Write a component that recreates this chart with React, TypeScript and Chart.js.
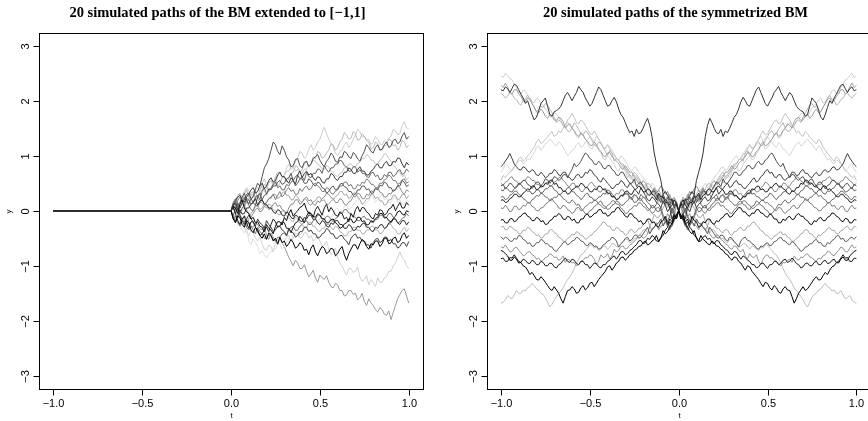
import React, { useEffect, useRef } from "react";
import { Chart, registerables } from "chart.js";
Chart.register(...registerables);

// ---------- data ----------
const tGrid = [0, 0.0125, 0.025, 0.0375, 0.05, 0.0625, 0.075, 0.0875, 0.1, 0.1125, 0.125, 0.1375, 0.15, 0.1625, 0.175, 0.1875, 0.2, 0.2125, 0.225, 0.2375, 0.25, 0.2625, 0.275, 0.2875, 0.3, 0.3125, 0.325, 0.3375, 0.35, 0.3625, 0.375, 0.3875, 0.4, 0.4125, 0.425, 0.4375, 0.45, 0.4625, 0.475, 0.4875, 0.5, 0.5125, 0.525, 0.5375, 0.55, 0.5625, 0.575, 0.5875, 0.6, 0.6125, 0.625, 0.6375, 0.65, 0.6625, 0.675, 0.6875, 0.7, 0.7125, 0.725, 0.7375, 0.75, 0.7625, 0.775, 0.7875, 0.8, 0.8125, 0.825, 0.8375, 0.85, 0.8625, 0.875, 0.8875, 0.9, 0.9125, 0.925, 0.9375, 0.95, 0.9625, 0.975, 0.9875, 1];
const extendedStart = -1; // BM extended by 0 on [-1, 0]
const extendedValue = 0;

const xTicks = [-1, -0.5, 0, 0.5, 1];
const xTickLabels = ["\u22121.0", "\u22120.5", "0.0", "0.5", "1.0"];
const yTicks = [-3, -2, -1, 0, 1, 2, 3];
const yTickLabels = ["\u22123", "\u22122", "\u22121", "0", "1", "2", "3"];
const leftTitle = "20 simulated paths of the BM extended to [\u22121,1]";
const rightTitle = "20 simulated paths of the symmetrized BM";
const xTitle = "t";
const yTitle = "y";

// left panel: 20 paths on [0,1]
const L1 = [0,0.1, 0.15,0.02, 0.05,0.14, 0.2,0.3, 0.32,0.22, 0.25,0.4, 0.5,0.45, 0.62,0.78, 0.85,0.95, 1.1,1.25, 1.2,1.08, 1.02,1.18, 1.1,0.98, 0.92,0.8, 0.82,0.93, 0.95,0.82, 0.78,0.88, 0.9,0.8, 0.85,0.95, 0.98,1.02, 0.92,0.85, 0.8,0.9, 0.95,1.05, 1.0,0.9, 0.88,0.98, 0.97,1.08, 1.05,0.98, 0.95,1.06, 1.02,0.94, 0.9,1.0, 1.08,1.2, 1.15,1.08, 1.05,1.15, 1.2,1.1, 1.12,1.2, 1.25,1.15, 1.18,1.28, 1.3,1.22, 1.25,1.36, 1.42,1.3, 1.35];
const L2 = [0,-0.12, -0.08,0.05, 0.12,0.0, 0.05,0.15, 0.22,0.3, 0.35,0.22, 0.25,0.38, 0.45,0.35, 0.4,0.5, 0.55,0.45, 0.5,0.62, 0.7,0.6, 0.65,0.78, 0.85,0.75, 0.8,0.9, 0.95,1.08, 1.05,0.95, 1.0,1.12, 1.2,1.1, 1.15,1.25, 1.3,1.42, 1.52,1.4, 1.3,1.22, 1.15,1.05, 1.0,1.08, 1.1,1.2, 1.25,1.15, 1.2,1.3, 1.38,1.48, 1.44,1.35, 1.35,1.28, 1.3,1.2, 1.25,1.35, 1.3,1.22, 1.19,1.28, 1.25,1.32, 1.35,1.48, 1.45,1.38, 1.4,1.55, 1.62,1.5, 1.5];
const L3 = [0,0.12, 0.18,0.08, 0.1,0.22, 0.25,0.15, 0.2,0.32, 0.35,0.25, 0.22,0.3, 0.38,0.48, 0.45,0.35, 0.42,0.5, 0.55,0.45, 0.5,0.6, 0.62,0.52, 0.58,0.68, 0.7,0.82, 0.8,0.7, 0.75,0.85, 0.9,0.8, 0.85,0.98, 0.95,1.08, 1.05,0.95, 0.98,1.05, 1.1,1.22, 1.2,1.1, 1.15,1.25, 1.3,1.42, 1.38,1.3, 1.32,1.44, 1.4,1.28, 1.3,1.4, 1.35,1.28, 1.25,1.12, 1.15,1.25, 1.22,1.12, 1.1,1.18, 1.2,1.3, 1.28,1.18, 1.2,1.1, 1.15,1.28, 1.25,1.15, 1.19];
const L4 = [0,-0.15, -0.22,-0.1, -0.12,-0.25, -0.3,-0.18, -0.22,-0.35, -0.4,-0.3, -0.35,-0.45, -0.5,-0.42, -0.52,-0.4, -0.45,-0.55, -0.5,-0.6, -0.48,-0.58, -0.55,-0.65, -0.6,-0.52, -0.58,-0.68, -0.65,-0.58, -0.62,-0.72, -0.7,-0.8, -0.68,-0.62, -0.75,-0.82, -0.72,-0.65, -0.68,-0.78, -0.75,-0.68, -0.7,-0.82, -0.78,-0.7, -0.65,-0.8, -0.9,-0.78, -0.7,-0.62, -0.62,-0.7, -0.6,-0.52, -0.56,-0.65, -0.7,-0.6, -0.62,-0.55, -0.55,-0.65, -0.6,-0.5, -0.5,-0.6, -0.58,-0.5, -0.48,-0.58, -0.55,-0.45, -0.4,-0.5, -0.45];
const L5 = [0,0.08, -0.05,-0.18, -0.25,-0.15, -0.1,-0.22, -0.32,-0.2, -0.2,-0.3, -0.38,-0.45, -0.42,-0.35, -0.3,-0.38, -0.25,-0.15, -0.2,-0.3, -0.28,-0.2, -0.22,-0.32, -0.32,-0.4, -0.3,-0.22, -0.2,-0.1, -0.15,-0.22, -0.1,-0.02, -0.05,-0.12, 0.02,0.08, 0.0,-0.08, 0.05,0.12, -0.02,0.06, 0.0,-0.08, -0.1,-0.02, -0.05,-0.15, -0.12,-0.2, -0.05,-0.12, 0.02,0.08, -0.02,0.06, 0.05,-0.02, -0.05,-0.12, -0.15,-0.05, -0.08,0.02, 0.0,-0.08, -0.05,0.03, 0.05,0.12, 0.0,0.08, 0.15,0.05, 0.05,0.15, 0.1];
const L6 = [0,-0.08, -0.15,-0.25, -0.2,-0.12, -0.3,-0.4, -0.45,-0.35, -0.4,-0.5, -0.55,-0.48, -0.6,-0.7, -0.72,-0.62, -0.65,-0.75, -0.58,-0.52, -0.5,-0.6, -0.55,-0.48, -0.45,-0.55, -0.5,-0.42, -0.42,-0.5, -0.48,-0.4, -0.4,-0.5, -0.45,-0.55, -0.5,-0.45, -0.55,-0.65, -0.62,-0.55, -0.7,-0.8, -0.75,-0.68, -0.85,-0.95, -1.0,-1.1, -1.17,-1.05, -1.05,-1.12, -1.1,-1.02, -1.2,-1.28, -1.25,-1.18, -1.35,-1.25, -1.3,-1.38, -1.22,-1.3, -1.3,-1.22, -1.2,-1.1, -1.1,-1.0, -0.95,-0.85, -0.75,-0.85, -0.9,-1.0, -1.05];
const L7 = [0,0.06, -0.05,0.02, -0.12,-0.2, -0.08,-0.15, -0.2,-0.28, -0.3,-0.22, -0.25,-0.32, -0.35,-0.28, -0.45,-0.52, -0.4,-0.48, -0.55,-0.62, -0.5,-0.58, -0.65,-0.75, -0.85,-0.92, -1.0,-0.9, -0.95,-1.05, -1.05,-0.98, -1.1,-1.2, -1.15,-1.08, -1.22,-1.3, -1.17,-1.22, -1.25,-1.18, -1.3,-1.38, -1.4,-1.32, -1.35,-1.45, -1.45,-1.55, -1.53,-1.45, -1.45,-1.52, -1.5,-1.62, -1.58,-1.5, -1.65,-1.72, -1.6,-1.68, -1.72,-1.8, -1.84,-1.76, -1.8,-1.88, -1.9,-1.82, -1.98,-1.85, -1.72,-1.6, -1.52,-1.45, -1.42,-1.55, -1.68];
const L8 = [0,-0.1, -0.15,-0.08, -0.25,-0.35, -0.4,-0.3, -0.55,-0.62, -0.5,-0.58, -0.65,-0.78, -0.72,-0.8, -0.86,-0.78, -0.75,-0.68, -0.7,-0.62, -0.6,-0.7, -0.65,-0.58, -0.5,-0.55, -0.45,-0.38, -0.35,-0.45, -0.4,-0.32, -0.3,-0.22, -0.2,-0.3, -0.25,-0.18, -0.15,-0.05, -0.1,-0.18, -0.2,-0.12, -0.05,0.02, 0.05,-0.05, 0.0,0.08, 0.1,0.02, 0.05,0.12, 0.15,0.22, 0.2,0.12, 0.1,0.15, 0.18,0.28, 0.25,0.15, 0.2,0.25, 0.3,0.2, 0.22,0.14, 0.15,0.22, 0.25,0.15, 0.2,0.12, 0.1,0.2, 0.16];
const L9 = [0,0.12, 0.18,0.25, 0.28,0.2, 0.15,0.25, 0.3,0.38, 0.42,0.32, 0.35,0.45, 0.5,0.4, 0.45,0.55, 0.6,0.52, 0.55,0.65, 0.7,0.62, 0.62,0.55, 0.5,0.6, 0.55,0.48, 0.65,0.72, 0.6,0.68, 0.72,0.65, 0.68,0.6, 0.55,0.62, 0.6,0.52, 0.5,0.58, 0.58,0.68, 0.65,0.58, 0.55,0.62, 0.62,0.7, 0.7,0.78, 0.75,0.68, 0.68,0.75, 0.8,0.72, 0.72,0.65, 0.65,0.72, 0.75,0.82, 0.85,0.78, 0.78,0.86, 0.9,0.82, 0.82,0.9, 0.88,0.96, 0.95,0.85, 0.78,0.88, 0.83];
const L10 = [0,-0.1, 0.05,0.15, -0.05,0.05, 0.1,0.22, 0.2,0.12, 0.15,0.25, 0.28,0.2, 0.35,0.42, 0.3,0.38, 0.4,0.48, 0.52,0.42, 0.45,0.38, 0.38,0.48, 0.45,0.52, 0.55,0.45, 0.5,0.58, 0.62,0.55, 0.7,0.62, 0.6,0.68, 0.68,0.76, 0.75,0.68, 0.82,0.75, 0.7,0.78, 0.78,0.85, 0.85,0.92, 0.9,0.82, 0.8,0.72, 0.72,0.8, 0.8,0.7, 0.75,0.68, 0.68,0.62, 0.6,0.68, 0.7,0.62, 0.65,0.56, 0.58,0.66, 0.62,0.7, 0.7,0.62, 0.65,0.72, 0.75,0.66, 0.68,0.76, 0.71];
const L11 = [0,0.15, 0.22,0.12, 0.05,0.15, 0.25,0.18, 0.1,0.02, 0.0,0.1, 0.08,0.15, 0.2,0.12, 0.15,0.22, 0.25,0.3, 0.2,0.28, 0.35,0.25, 0.3,0.38, 0.42,0.35, 0.38,0.3, 0.3,0.4, 0.35,0.42, 0.45,0.38, 0.4,0.48, 0.5,0.45, 0.42,0.35, 0.35,0.42, 0.4,0.32, 0.3,0.36, 0.38,0.45, 0.45,0.52, 0.52,0.45, 0.48,0.4, 0.4,0.48, 0.45,0.52, 0.5,0.58, 0.55,0.48, 0.48,0.42, 0.42,0.5, 0.5,0.56, 0.58,0.65, 0.62,0.55, 0.55,0.48, 0.5,0.56, 0.58,0.5, 0.53];
const L12 = [0,0.05, -0.05,0.1, 0.15,0.25, 0.32,0.2, 0.12,0.22, 0.15,0.1, 0.25,0.32, 0.2,0.28, 0.3,0.4, 0.38,0.45, 0.45,0.52, 0.55,0.48, 0.5,0.58, 0.6,0.68, 0.55,0.62, 0.65,0.58, 0.58,0.5, 0.5,0.58, 0.55,0.48, 0.45,0.52, 0.5,0.42, 0.4,0.32, 0.35,0.42, 0.45,0.38, 0.4,0.48, 0.5,0.44, 0.42,0.35, 0.35,0.28, 0.3,0.38, 0.38,0.45, 0.45,0.38, 0.4,0.32, 0.32,0.4, 0.38,0.46, 0.45,0.52, 0.5,0.42, 0.42,0.35, 0.38,0.46, 0.45,0.55, 0.52,0.44, 0.47];
const L13 = [0,0.1, 0.05,0.18, 0.25,0.15, 0.08,0.02, -0.05,-0.12, -0.05,0.02, 0.05,-0.02, 0.0,0.08, 0.1,0.02, 0.05,0.12, 0.15,0.08, 0.1,0.02, 0.0,-0.06, 0.05,0.12, 0.12,0.2, 0.2,0.12, 0.15,0.22, 0.25,0.18, 0.2,0.12, 0.1,0.18, 0.15,0.22, 0.25,0.32, 0.3,0.24, 0.22,0.15, 0.15,0.22, 0.2,0.12, 0.1,0.16, 0.18,0.26, 0.25,0.32, 0.3,0.22, 0.22,0.3, 0.28,0.36, 0.35,0.42, 0.4,0.34, 0.32,0.25, 0.25,0.32, 0.3,0.38, 0.38,0.45, 0.42,0.34, 0.3,0.38, 0.35];
const L14 = [0,-0.08, -0.18,-0.1, -0.05,-0.15, -0.22,-0.3, -0.15,-0.05, 0.0,0.08, 0.1,0.02, 0.05,0.12, 0.15,0.22, 0.22,0.3, 0.3,0.22, 0.25,0.32, 0.35,0.28, 0.28,0.2, 0.2,0.28, 0.25,0.18, 0.15,0.22, 0.2,0.12, 0.1,0.16, 0.18,0.25, 0.25,0.18, 0.2,0.12, 0.12,0.18, 0.2,0.26, 0.28,0.35, 0.35,0.28, 0.3,0.22, 0.25,0.32, 0.32,0.25, 0.2,0.12, 0.15,0.22, 0.22,0.3, 0.3,0.22, 0.25,0.18, 0.18,0.1, 0.12,0.2, 0.2,0.28, 0.28,0.2, 0.22,0.3, 0.3,0.22, 0.28];
const L15 = [0,0.1, 0.12,0.02, -0.08,-0.18, -0.25,-0.15, -0.08,-0.15, -0.2,-0.28, -0.15,-0.22, -0.25,-0.32, -0.18,-0.25, -0.3,-0.38, -0.35,-0.28, -0.28,-0.35, -0.38,-0.45, -0.32,-0.38, -0.4,-0.48, -0.45,-0.38, -0.38,-0.3, -0.3,-0.38, -0.35,-0.42, -0.42,-0.5, -0.48,-0.42, -0.4,-0.32, -0.35,-0.42, -0.42,-0.5, -0.5,-0.45, -0.45,-0.52, -0.55,-0.62, -0.5,-0.45, -0.42,-0.5, -0.48,-0.55, -0.55,-0.62, -0.62,-0.68, -0.58,-0.52, -0.5,-0.58, -0.55,-0.48, -0.48,-0.55, -0.52,-0.6, -0.6,-0.68, -0.65,-0.58, -0.58,-0.65, -0.56];
const L16 = [0,0.12, 0.18,0.28, 0.32,0.22, 0.3,0.38, 0.25,0.2, 0.28,0.35, 0.22,0.15, 0.15,0.08, 0.05,0.12, 0.1,0.02, 0.0,-0.06, -0.08,0.0, -0.02,-0.1, -0.12,-0.18, -0.2,-0.12, -0.15,-0.22, -0.25,-0.3, -0.3,-0.22, -0.22,-0.28, -0.3,-0.36, -0.38,-0.32, -0.32,-0.25, -0.25,-0.3, -0.35,-0.28, -0.3,-0.38, -0.4,-0.46, -0.45,-0.38, -0.38,-0.3, -0.3,-0.36, -0.35,-0.42, -0.42,-0.35, -0.35,-0.28, -0.28,-0.35, -0.35,-0.42, -0.4,-0.33, -0.3,-0.24, -0.25,-0.32, -0.35,-0.42, -0.42,-0.35, -0.3,-0.38, -0.32];
const L17 = [0,-0.12, -0.2,-0.1, 0.02,-0.06, -0.05,0.05, 0.05,0.12, 0.15,0.22, 0.1,0.18, 0.2,0.12, 0.12,0.05, 0.05,-0.02, -0.05,0.02, 0.0,-0.08, -0.1,-0.02, -0.05,-0.12, -0.15,-0.08, -0.1,-0.18, -0.2,-0.12, -0.15,-0.08, -0.08,-0.16, -0.15,-0.22, -0.25,-0.18, -0.2,-0.28, -0.3,-0.22, -0.25,-0.18, -0.18,-0.25, -0.25,-0.32, -0.32,-0.25, -0.28,-0.36, -0.35,-0.28, -0.3,-0.24, -0.22,-0.3, -0.3,-0.36, -0.38,-0.3, -0.32,-0.26, -0.25,-0.32, -0.3,-0.22, -0.22,-0.15, -0.15,-0.22, -0.25,-0.18, -0.18,-0.26, -0.2];
const L18 = [0,0.08, 0.05,-0.05, 0.12,0.2, 0.05,-0.02, -0.05,-0.15, -0.12,-0.22, -0.2,-0.28, -0.3,-0.38, -0.25,-0.32, -0.35,-0.42, -0.28,-0.2, -0.2,-0.26, -0.12,-0.18, -0.05,0.02, -0.1,-0.04, 0.0,0.06, 0.08,0.14, 0.02,-0.05, -0.05,-0.1, -0.12,-0.05, -0.08,-0.15, -0.15,-0.22, -0.22,-0.16, -0.15,-0.22, -0.25,-0.32, -0.3,-0.24, -0.22,-0.15, -0.15,-0.22, -0.2,-0.12, -0.12,-0.2, -0.18,-0.26, -0.25,-0.18, -0.2,-0.14, -0.12,-0.05, -0.05,-0.12, -0.12,-0.18, -0.2,-0.14, -0.1,-0.02, 0.0,-0.06, -0.08,0.0, -0.02];
const L19 = [0,0.15, 0.1,0.22, 0.3,0.22, 0.35,0.42, 0.35,0.28, 0.3,0.38, 0.42,0.35, 0.5,0.58, 0.45,0.52, 0.55,0.48, 0.62,0.7, 0.7,0.62, 0.65,0.72, 0.72,0.8, 0.8,0.72, 0.75,0.68, 0.68,0.76, 0.75,0.82, 0.85,0.92, 0.9,0.84, 0.82,0.76, 0.75,0.82, 0.8,0.72, 0.7,0.64, 0.62,0.68, 0.7,0.78, 0.78,0.85, 0.85,0.8, 0.8,0.86, 0.88,0.95, 0.95,1.02, 1.0,0.92, 0.92,0.85, 0.85,0.92, 0.95,1.04, 1.02,0.95, 0.9,0.82, 0.8,0.72, 0.7,0.62, 0.65,0.56, 0.6];
const L20 = [0,-0.15, -0.1,-0.2, -0.28,-0.2, -0.18,-0.3, -0.35,-0.28, -0.35,-0.42, -0.3,-0.38, -0.42,-0.5, -0.5,-0.44, -0.45,-0.52, -0.55,-0.48, -0.48,-0.42, -0.4,-0.46, -0.35,-0.3, -0.28,-0.36, -0.35,-0.28, -0.25,-0.2, -0.18,-0.25, -0.25,-0.18, -0.15,-0.08, -0.08,-0.14, -0.15,-0.1, -0.1,-0.16, -0.2,-0.14, -0.12,-0.05, -0.05,0.02, 0.02,-0.04, -0.05,-0.1, -0.12,-0.18, -0.18,-0.12, -0.1,-0.16, -0.15,-0.2, -0.22,-0.16, -0.15,-0.08, -0.08,-0.14, -0.12,-0.05, -0.05,-0.12, -0.15,-0.22, -0.2,-0.14, -0.12,-0.05, -0.1];
// stacking order: first listed is painted first (bottom), last is on top
const leftPaths = [L7, L6, L8, L2, L3, L19, L16, L14, L13, L11, L20, L10, L12, L1, L15, L17, L5, L18, L4, L9];
const leftColors = ["#999999", "#d0d0d0", "#e0e0e0", "#cccccc", "#b8b8b8", "#c4c4c4", "#b3b3b3", "#a6a6a6", "#8c8c8c", "#7a7a7a", "#737373", "#666666", "#555555", "#4d4d4d", "#404040", "#2b2b2b", "#1a1a1a", "#0d0d0d", "#000000", "#383838"];

// right panel: 20 paths on [0,1], drawn symmetrically on [-1,1]
const R1 = [0,0.12, 0.1,0.2, 0.2,0.28, 0.35,0.3, 0.55,0.7, 0.85,1.05, 1.35,1.55, 1.68,1.6, 1.5,1.42, 1.4,1.48, 1.35,1.45, 1.42,1.5, 1.6,1.7, 1.75,1.85, 1.98,2.06, 2.0,1.92, 1.9,2.0, 2.1,2.2, 2.25,2.15, 2.05,1.95, 1.9,1.98, 2.05,2.15, 2.2,2.26, 2.15,2.08, 2.0,2.08, 2.15,2.1, 2.0,1.9, 1.85,1.82, 1.8,1.72, 1.75,1.9, 2.05,2.0, 1.95,1.82, 1.7,1.65, 1.75,1.88, 2.0,1.95, 2.05,2.12, 2.2,2.28, 2.3,2.22, 2.15,2.22, 2.25,2.18, 2.2];
const R2 = [0,-0.1, 0.08,0.2, 0.15,0.05, 0.1,0.2, 0.22,0.15, 0.3,0.38, 0.25,0.32, 0.38,0.48, 0.45,0.4, 0.55,0.62, 0.5,0.58, 0.65,0.6, 0.72,0.8, 0.8,0.72, 0.75,0.84, 0.9,0.96, 1.0,0.92, 0.95,1.04, 1.1,1.18, 1.2,1.12, 1.15,1.22, 1.3,1.36, 1.4,1.32, 1.35,1.44, 1.5,1.56, 1.6,1.52, 1.55,1.64, 1.7,1.76, 1.78,1.7, 1.72,1.8, 1.85,1.92, 1.95,2.02, 2.05,1.96, 1.98,2.06, 2.1,2.18, 2.2,2.12, 2.15,2.24, 2.3,2.38, 2.4,2.46, 2.5,2.42, 2.45];
const R3 = [0,0.18, 0.1,0.02, 0.05,0.12, 0.18,0.28, 0.25,0.18, 0.35,0.42, 0.3,0.38, 0.42,0.5, 0.55,0.48, 0.5,0.56, 0.62,0.7, 0.7,0.76, 0.82,0.75, 0.78,0.86, 0.9,0.95, 0.98,1.06, 1.05,0.98, 1.0,1.08, 1.12,1.2, 1.25,1.18, 1.2,1.26, 1.3,1.38, 1.42,1.35, 1.38,1.46, 1.5,1.58, 1.55,1.5, 1.62,1.68, 1.7,1.64, 1.65,1.72, 1.75,1.68, 1.72,1.8, 1.85,1.78, 1.8,1.88, 1.95,2.02, 2.05,1.98, 2.0,2.08, 2.12,2.2, 2.2,2.12, 2.15,2.25, 2.32,2.24, 2.28];
const R4 = [0,0.1, 0.05,-0.05, 0.15,0.25, 0.2,0.12, 0.3,0.38, 0.25,0.32, 0.4,0.48, 0.5,0.42, 0.45,0.52, 0.6,0.66, 0.7,0.62, 0.65,0.72, 0.78,0.85, 0.85,0.92, 0.95,0.9, 1.05,1.1, 1.0,1.08, 1.15,1.22, 1.25,1.18, 1.2,1.28, 1.35,1.42, 1.45,1.38, 1.4,1.48, 1.55,1.6, 1.5,1.44, 1.45,1.52, 1.55,1.62, 1.65,1.6, 1.7,1.78, 1.85,1.92, 1.95,1.88, 1.9,1.84, 1.8,1.88, 1.95,2.04, 2.1,2.02, 2.0,1.92, 1.95,2.02, 2.05,2.12, 2.15,2.08, 2.05,2.1, 2.13];
const R5 = [0,0.15, 0.1,0.22, 0.2,0.3, 0.15,0.22, 0.3,0.25, 0.38,0.45, 0.5,0.42, 0.45,0.55, 0.6,0.66, 0.7,0.78, 0.8,0.72, 0.75,0.84, 0.9,0.96, 1.0,0.92, 0.95,1.04, 1.1,1.16, 1.2,1.12, 1.15,1.24, 1.3,1.36, 1.25,1.32, 1.35,1.28, 1.25,1.18, 1.15,1.24, 1.2,1.12, 1.1,1.04, 1.0,1.08, 1.15,1.22, 1.25,1.18, 1.2,1.27, 1.3,1.24, 1.22,1.15, 1.1,1.18, 1.15,1.06, 1.0,0.92, 0.95,0.88, 0.85,0.92, 0.9,0.84, 0.8,0.72, 0.75,0.82, 0.85,0.76, 0.7];
const R6 = [0,-0.08, 0.05,0.15, 0.12,0.05, 0.2,0.28, 0.15,0.22, 0.25,0.32, 0.35,0.28, 0.3,0.38, 0.42,0.5, 0.55,0.62, 0.65,0.58, 0.6,0.68, 0.75,0.82, 0.85,0.92, 0.95,1.02, 1.05,1.12, 1.2,1.14, 1.15,1.24, 1.3,1.38, 1.45,1.38, 1.4,1.48, 1.55,1.62, 1.65,1.58, 1.6,1.7, 1.77,1.7, 1.65,1.56, 1.5,1.42, 1.45,1.38, 1.35,1.44, 1.4,1.34, 1.3,1.25, 1.22,1.3, 1.25,1.16, 1.1,1.04, 1.0,0.94, 0.9,0.98, 0.95,0.86, 0.8,0.74, 0.7,0.66, 0.6,0.64, 0.55];
const R7 = [0,-0.12, -0.05,-0.15, 0.05,-0.02, 0.1,0.18, 0.05,0.12, 0.15,0.22, 0.25,0.18, 0.2,0.28, 0.35,0.42, 0.3,0.36, 0.4,0.46, 0.5,0.42, 0.45,0.52, 0.55,0.48, 0.48,0.42, 0.4,0.46, 0.5,0.56, 0.6,0.52, 0.55,0.62, 0.65,0.72, 0.75,0.68, 0.7,0.62, 0.6,0.66, 0.65,0.58, 0.55,0.6, 0.62,0.7, 0.7,0.64, 0.65,0.72, 0.75,0.68, 0.68,0.62, 0.6,0.66, 0.7,0.64, 0.65,0.72, 0.75,0.7, 0.72,0.78, 0.8,0.74, 0.75,0.8, 0.85,0.95, 1.04,0.96, 0.9,0.84, 0.8];
const R8 = [0,0.15, 0.05,0.22, 0.1,0.18, 0.2,0.3, 0.15,0.22, 0.28,0.36, 0.35,0.28, 0.3,0.38, 0.45,0.52, 0.5,0.44, 0.58,0.5, 0.5,0.56, 0.62,0.7, 0.7,0.64, 0.65,0.72, 0.75,0.82, 0.82,0.76, 0.78,0.86, 0.9,0.84, 0.85,0.92, 0.95,1.02, 1.05,0.98, 0.9,0.84, 0.8,0.86, 0.75,0.68, 0.6,0.66, 0.65,0.58, 0.55,0.6, 0.62,0.55, 0.5,0.56, 0.58,0.5, 0.45,0.52, 0.52,0.46, 0.4,0.46, 0.48,0.55, 0.55,0.5, 0.5,0.44, 0.42,0.48, 0.5,0.44, 0.4,0.48, 0.45];
const R9 = [0,0.15, 0.2,0.12, 0.25,0.35, 0.3,0.4, 0.45,0.38, 0.32,0.4, 0.35,0.28, 0.3,0.22, 0.25,0.18, 0.2,0.28, 0.28,0.2, 0.22,0.3, 0.3,0.38, 0.38,0.3, 0.32,0.25, 0.25,0.32, 0.3,0.36, 0.4,0.34, 0.35,0.42, 0.45,0.52, 0.5,0.44, 0.42,0.35, 0.35,0.42, 0.42,0.5, 0.5,0.44, 0.45,0.52, 0.55,0.62, 0.6,0.54, 0.52,0.46, 0.45,0.52, 0.5,0.44, 0.42,0.48, 0.48,0.55, 0.55,0.6, 0.62,0.56, 0.55,0.5, 0.48,0.54, 0.55,0.62, 0.6,0.54, 0.52,0.46, 0.5];
const R10 = [0,-0.1, -0.18,-0.28, -0.3,-0.2, -0.15,-0.08, 0.05,-0.02, 0.0,0.08, 0.1,0.02, 0.05,0.12, 0.15,0.22, 0.22,0.16, 0.15,0.22, 0.25,0.32, 0.32,0.26, 0.28,0.22, 0.2,0.26, 0.3,0.36, 0.38,0.3, 0.32,0.26, 0.25,0.2, 0.18,0.24, 0.25,0.32, 0.3,0.24, 0.2,0.26, 0.28,0.34, 0.35,0.42, 0.42,0.36, 0.35,0.3, 0.3,0.36, 0.38,0.45, 0.45,0.4, 0.4,0.34, 0.32,0.38, 0.38,0.32, 0.3,0.36, 0.35,0.4, 0.42,0.48, 0.48,0.42, 0.4,0.34, 0.35,0.4, 0.42,0.36, 0.38];
const R11 = [0,0.12, 0.2,0.1, 0.05,0.15, 0.15,0.25, 0.25,0.32, 0.2,0.28, 0.3,0.38, 0.4,0.34, 0.35,0.42, 0.45,0.4, 0.38,0.3, 0.3,0.36, 0.35,0.28, 0.28,0.22, 0.2,0.26, 0.25,0.32, 0.32,0.4, 0.38,0.44, 0.45,0.38, 0.4,0.34, 0.35,0.42, 0.42,0.48, 0.5,0.44, 0.45,0.4, 0.38,0.32, 0.3,0.36, 0.35,0.42, 0.42,0.5, 0.48,0.56, 0.55,0.48, 0.5,0.44, 0.45,0.4, 0.38,0.45, 0.45,0.38, 0.4,0.35, 0.32,0.26, 0.25,0.3, 0.3,0.24, 0.22,0.16, 0.15,0.2, 0.19];
const R12 = [0,-0.1, -0.15,-0.25, -0.35,-0.28, -0.2,-0.12, 0.0,0.06, 0.05,-0.02, -0.05,0.02, 0.0,0.06, 0.08,0.14, 0.15,0.08, 0.1,0.04, 0.02,-0.04, -0.05,0.02, 0.05,0.12, 0.12,0.18, 0.18,0.12, 0.1,0.04, 0.05,0.1, 0.12,0.18, 0.2,0.14, 0.15,0.1, 0.08,0.02, 0.0,0.06, 0.05,-0.02, -0.05,0.0, 0.02,0.08, 0.1,0.04, 0.05,0.12, 0.15,0.22, 0.2,0.14, 0.12,0.06, 0.05,0.0, 0.0,0.06, 0.08,0.14, 0.15,0.08, 0.1,0.04, 0.02,0.08, 0.08,0.0, -0.02,0.05, 0.1,0.04, 0.05];
const R13 = [0,-0.15, -0.08,-0.2, -0.15,-0.25, -0.1,-0.18, -0.2,-0.3, -0.28,-0.2, -0.22,-0.15, -0.15,-0.22, -0.25,-0.18, -0.2,-0.14, -0.12,-0.06, -0.05,-0.12, -0.1,-0.04, 0.0,0.06, 0.05,-0.02, -0.02,-0.08, -0.1,-0.04, -0.05,0.02, 0.02,-0.04, -0.05,-0.1, -0.12,-0.06, -0.08,-0.15, -0.15,-0.22, -0.22,-0.15, -0.18,-0.12, -0.1,-0.16, -0.15,-0.08, -0.05,-0.1, -0.1,-0.16, -0.18,-0.24, -0.25,-0.18, -0.2,-0.14, -0.12,-0.18, -0.18,-0.12, -0.1,-0.04, -0.05,-0.1, -0.12,-0.18, -0.2,-0.14, -0.15,-0.22, -0.22,-0.16, -0.17];
const R14 = [0,0.15, 0.25,0.18, 0.3,0.22, 0.12,0.05, -0.05,-0.12, -0.12,-0.06, -0.2,-0.28, -0.15,-0.22, -0.25,-0.32, -0.32,-0.38, -0.4,-0.34, -0.35,-0.42, -0.45,-0.38, -0.38,-0.32, -0.3,-0.36, -0.35,-0.28, -0.28,-0.22, -0.2,-0.26, -0.3,-0.36, -0.38,-0.44, -0.45,-0.5, -0.52,-0.46, -0.45,-0.4, -0.38,-0.44, -0.42,-0.48, -0.5,-0.56, -0.55,-0.5, -0.48,-0.42, -0.4,-0.34, -0.35,-0.42, -0.42,-0.48, -0.5,-0.44, -0.45,-0.4, -0.38,-0.32, -0.3,-0.36, -0.35,-0.42, -0.42,-0.36, -0.35,-0.3, -0.28,-0.34, -0.35,-0.28, -0.3];
const R15 = [0,-0.12, -0.05,0.05, -0.1,-0.18, -0.2,-0.28, -0.15,-0.22, -0.25,-0.3, -0.35,-0.42, -0.3,-0.36, -0.42,-0.48, -0.5,-0.44, -0.45,-0.52, -0.55,-0.48, -0.5,-0.56, -0.6,-0.66, -0.55,-0.5, -0.48,-0.54, -0.55,-0.6, -0.62,-0.68, -0.7,-0.64, -0.65,-0.6, -0.58,-0.64, -0.62,-0.56, -0.55,-0.5, -0.48,-0.54, -0.55,-0.6, -0.62,-0.56, -0.58,-0.64, -0.68,-0.74, -0.72,-0.66, -0.65,-0.6, -0.6,-0.54, -0.52,-0.58, -0.58,-0.64, -0.65,-0.58, -0.6,-0.54, -0.52,-0.46, -0.45,-0.52, -0.5,-0.56, -0.55,-0.5, -0.48,-0.52, -0.47];
const R16 = [0,0.1, -0.05,-0.15, -0.12,-0.05, -0.2,-0.25, -0.28,-0.35, -0.22,-0.3, -0.35,-0.28, -0.42,-0.48, -0.5,-0.44, -0.45,-0.52, -0.55,-0.6, -0.62,-0.68, -0.7,-0.64, -0.65,-0.72, -0.75,-0.7, -0.82,-0.88, -0.78,-0.84, -0.85,-0.8, -0.92,-0.98, -0.88,-0.82, -0.8,-0.86, -0.85,-0.9, -0.92,-0.98, -1.0,-0.94, -0.95,-0.9, -0.88,-0.94, -0.82,-0.88, -0.9,-0.84, -0.85,-0.8, -0.78,-0.84, -0.85,-0.9, -0.92,-0.86, -0.88,-0.82, -0.8,-0.74, -0.75,-0.8, -0.82,-0.76, -0.72,-0.66, -0.68,-0.74, -0.75,-0.68, -0.62,-0.68, -0.65];
const R17 = [0,-0.08, -0.15,-0.22, -0.3,-0.38, -0.42,-0.36, -0.5,-0.56, -0.45,-0.52, -0.55,-0.6, -0.62,-0.55, -0.58,-0.64, -0.65,-0.7, -0.72,-0.78, -0.8,-0.86, -0.9,-0.84, -0.85,-0.92, -0.95,-1.02, -1.08,-1.0, -1.02,-1.1, -1.15,-1.2, -1.25,-1.32, -1.38,-1.3, -1.32,-1.4, -1.44,-1.36, -1.4,-1.48, -1.5,-1.42, -1.38,-1.44, -1.45,-1.56, -1.68,-1.6, -1.5,-1.44, -1.38,-1.45, -1.42,-1.36, -1.3,-1.24, -1.2,-1.26, -1.25,-1.18, -1.12,-1.16, -1.08,-1.02, -1.0,-0.94, -0.95,-0.88, -0.84,-0.9, -0.9,-0.82, -0.78,-0.74, -0.72];
const R18 = [0,-0.15, -0.1,-0.25, -0.2,-0.3, -0.35,-0.45, -0.48,-0.56, -0.55,-0.48, -0.45,-0.52, -0.5,-0.58, -0.6,-0.54, -0.55,-0.62, -0.65,-0.7, -0.72,-0.78, -0.8,-0.74, -0.75,-0.82, -0.88,-0.82, -0.85,-0.9, -0.92,-0.98, -0.98,-1.04, -1.02,-0.96, -0.95,-1.0, -1.05,-0.98, -0.98,-0.92, -0.92,-0.98, -0.96,-0.9, -0.88,-0.94, -0.92,-0.86, -0.9,-0.96, -0.98,-1.04, -1.02,-0.96, -0.95,-1.0, -1.0,-0.94, -0.92,-0.98, -0.98,-0.92, -0.9,-0.96, -0.95,-0.9, -0.88,-0.94, -0.92,-0.86, -0.8,-0.86, -0.85,-0.92, -0.92,-0.86, -0.87];
const R19 = [0,0.08, -0.05,0.02, -0.12,-0.2, -0.2,-0.12, -0.15,-0.22, -0.25,-0.3, -0.32,-0.38, -0.4,-0.34, -0.35,-0.42, -0.45,-0.5, -0.5,-0.56, -0.58,-0.52, -0.52,-0.58, -0.6,-0.66, -0.65,-0.6, -0.6,-0.66, -0.7,-0.64, -0.65,-0.7, -0.72,-0.66, -0.68,-0.62, -0.62,-0.68, -0.72,-0.78, -0.8,-0.88, -0.95,-1.05, -1.14,-1.2, -1.25,-1.32, -1.4,-1.46, -1.5,-1.56, -1.62,-1.7, -1.75,-1.66, -1.58,-1.52, -1.5,-1.44, -1.42,-1.36, -1.32,-1.38, -1.4,-1.46, -1.44,-1.5, -1.5,-1.45, -1.53,-1.6, -1.58,-1.54, -1.62,-1.66, -1.68];
const R20 = [0,0.12, 0.05,-0.05, 0.15,0.25, 0.1,0.18, 0.2,0.28, 0.12,0.06, 0.05,0.12, 0.15,0.22, 0.25,0.3, 0.2,0.26, 0.3,0.24, 0.25,0.18, 0.15,0.1, 0.1,0.16, 0.18,0.12, 0.1,0.04, 0.02,0.08, 0.1,0.18, 0.15,0.1, 0.08,0.02, 0.0,-0.06, -0.05,0.0, 0.05,0.12, 0.1,0.16, 0.2,0.14, 0.15,0.2, 0.22,0.28, 0.3,0.24, 0.25,0.2, 0.18,0.24, 0.25,0.3, 0.32,0.26, 0.28,0.22, 0.2,0.14, 0.15,0.2, 0.22,0.28, 0.3,0.36, 0.35,0.3, 0.28,0.22, 0.2,0.26, 0.25];
const rightPaths = [R5, R2, R6, R19, R4, R14, R3, R16, R9, R12, R20, R10, R15, R8, R7, R1, R11, R18, R13, R17];
const rightColors = ["#d6d6d6", "#cfcfcf", "#c2c2c2", "#bdbdbd", "#b5b5b5", "#a8a8a8", "#9e9e9e", "#949494", "#8a8a8a", "#7d7d7d", "#707070", "#666666", "#5c5c5c", "#4f4f4f", "#3d3d3d", "#333333", "#1f1f1f", "#1a1a1a", "#0a0a0a", "#000000"];

// ---------- layout ----------
const W = 868;
const H = 421;
const X_MIN = -1.08, X_MAX = 1.08, Y_MIN = -3.24, Y_MAX = 3.24;

function leftPoints(path: number[]) {
  const pts = [{ x: extendedStart, y: extendedValue }];
  path.forEach((v, i) => pts.push({ x: tGrid[i], y: v }));
  return pts;
}
function symPoints(path: number[]) {
  const pts: { x: number; y: number }[] = [];
  for (let i = path.length - 1; i >= 1; i--) pts.push({ x: -tGrid[i], y: path[i] });
  path.forEach((v, i) => pts.push({ x: tGrid[i], y: v }));
  return pts;
}

function axesPlugin(title: string, titleShift: number) {
  return {
    id: "rAxes",
    afterDraw(chart: any) {
      const { ctx, chartArea: a, scales } = chart;
      const xs = scales.x, ys = scales.y;
      const tick = 6;
      ctx.save();
      ctx.strokeStyle = "#000";
      ctx.fillStyle = "#000";
      ctx.lineWidth = 1;
      const L = Math.round(a.left) + 0.5, T = Math.round(a.top) + 0.5;
      const R = Math.round(a.right) + 0.5, B = Math.round(a.bottom) + 0.5;
      ctx.strokeRect(L, T, R - L, B - T);
      ctx.font = "11px 'Liberation Sans', Arial, sans-serif";
      ctx.textAlign = "center";
      ctx.textBaseline = "middle";
      xTicks.forEach((v, i) => {
        const px = Math.round(xs.getPixelForValue(v)) + 0.5;
        ctx.beginPath();
        ctx.moveTo(px, B);
        ctx.lineTo(px, B + tick);
        ctx.stroke();
        ctx.fillText(xTickLabels[i], px, B + 14);
      });
      yTicks.forEach((v, i) => {
        const py = Math.round(ys.getPixelForValue(v)) + 0.5;
        ctx.beginPath();
        ctx.moveTo(L, py);
        ctx.lineTo(L - tick, py);
        ctx.stroke();
        ctx.save();
        ctx.translate(L - 14, py);
        ctx.rotate(-Math.PI / 2);
        ctx.fillText(yTickLabels[i], 0, 0);
        ctx.restore();
      });
      ctx.font = "8px 'Liberation Sans', Arial, sans-serif";
      ctx.fillText(xTitle, (L + R) / 2, B + 26);
      ctx.save();
      ctx.translate(L - 31, (T + B) / 2);
      ctx.rotate(-Math.PI / 2);
      ctx.fillText(yTitle, 0, 0);
      ctx.restore();
      ctx.font = "bold 14.5px 'Liberation Serif', 'Times New Roman', serif";
      ctx.fillText(title, (L + R) / 2 + titleShift, 13);
      ctx.restore();
    },
  };
}

function buildChart(canvas: HTMLCanvasElement, paths: number[][], colors: string[], toPoints: (p: number[]) => any[], title: string, titleShift: number, padding: any) {
  // Chart.js paints dataset 0 last (on top), so reverse to keep the listed stacking
  const datasets = paths
    .map((p, i) => ({
      data: toPoints(p),
      borderColor: colors[i],
      borderWidth: 1,
      pointRadius: 0,
      fill: false,
      tension: 0,
    }))
    .reverse();
  return new Chart(canvas, {
    type: "line",
    data: { datasets },
    options: {
      animation: false,
      responsive: false,
      devicePixelRatio: 1,
      layout: { padding },
      plugins: { legend: { display: false }, tooltip: { enabled: false }, title: { display: false } },
      scales: {
        x: { type: "linear", min: X_MIN, max: X_MAX, display: false },
        y: { type: "linear", min: Y_MIN, max: Y_MAX, display: false },
      },
    },
    plugins: [axesPlugin(title, titleShift)],
  } as any);
}

export default function App() {
  const leftRef = useRef<HTMLCanvasElement>(null);
  const rightRef = useRef<HTMLCanvasElement>(null);
  useEffect(() => {
    const c1 = buildChart(leftRef.current!, leftPaths, leftColors, leftPoints, leftTitle, -14, { left: 39, right: 11, top: 32.5, bottom: 32 });
    const c2 = buildChart(rightRef.current!, rightPaths, rightColors, symPoints, rightTitle, -4, { left: 52.7, right: 3.4, top: 32.5, bottom: 32 });
    return () => {
      c1.destroy();
      c2.destroy();
    };
  }, []);
  return (
    <div style={{ position: "fixed", left: 0, top: 0, width: W, height: H, background: "#fff", overflow: "hidden" }}>
      <canvas ref={leftRef} width={434} height={H} style={{ position: "absolute", left: 0, top: 0, width: 434, height: H }} />
      <canvas ref={rightRef} width={440} height={H} style={{ position: "absolute", left: 434, top: 0, width: 440, height: H }} />
    </div>
  );
}
